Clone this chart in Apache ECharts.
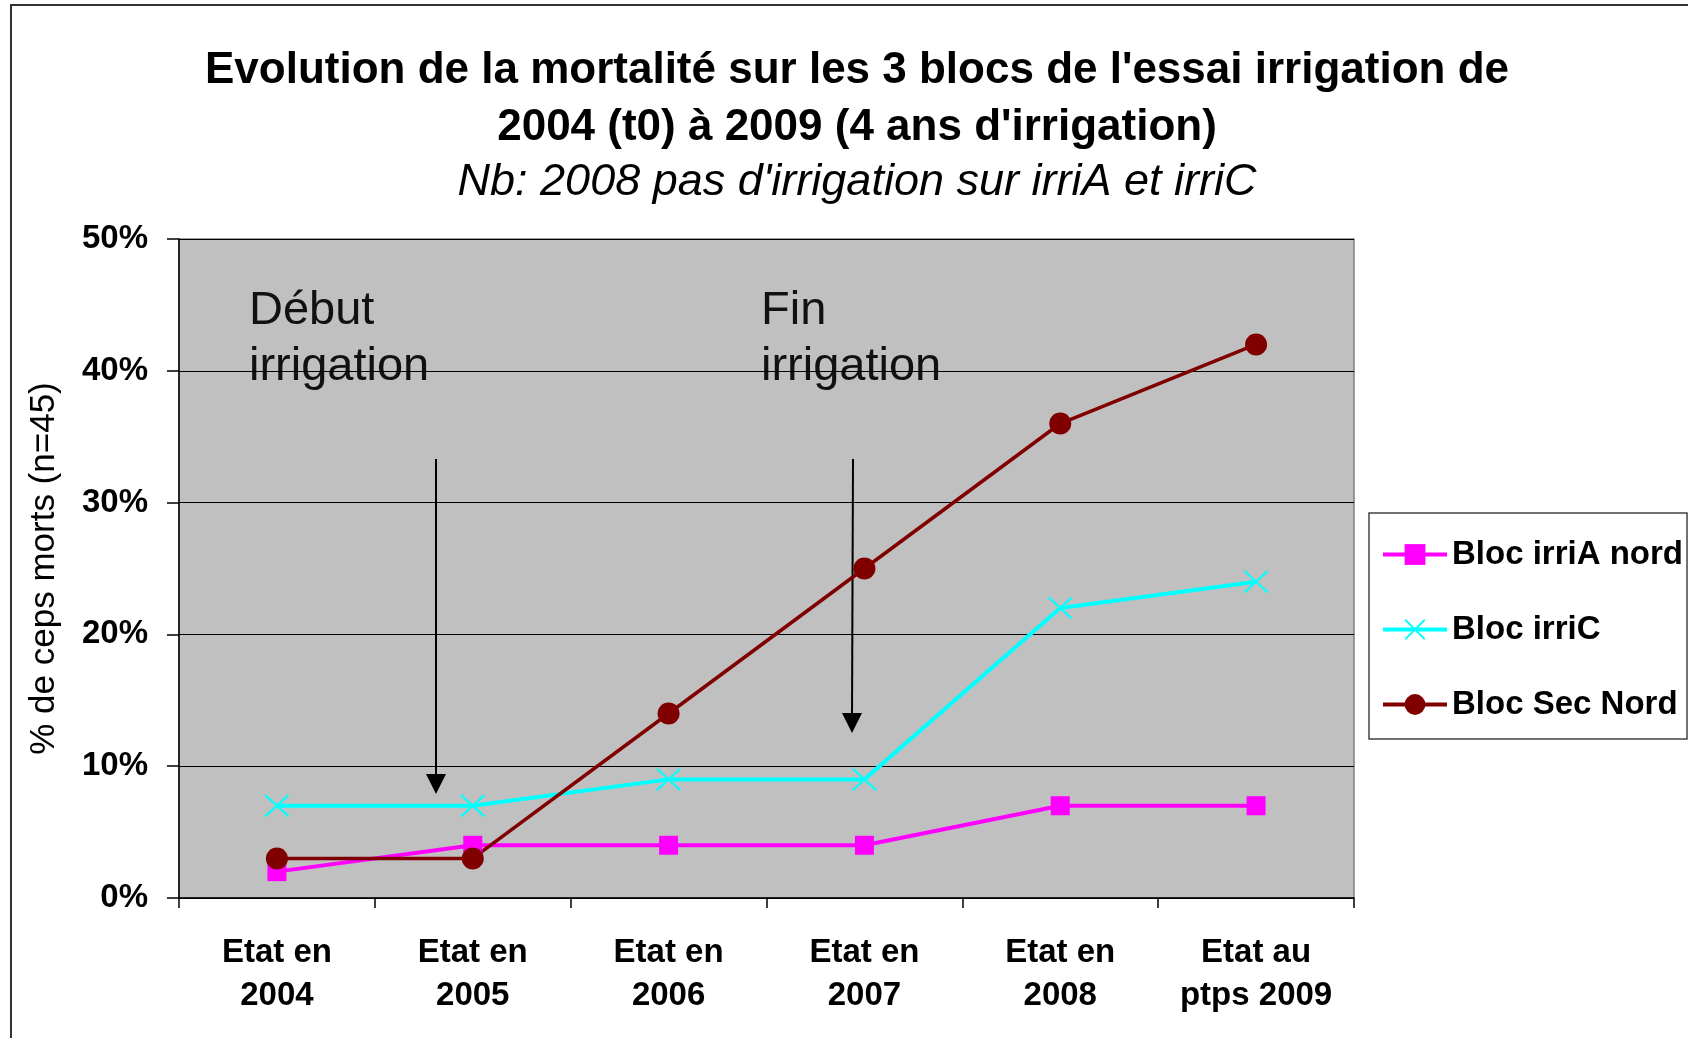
<!DOCTYPE html>
<html>
<head>
<meta charset="UTF-8">
<title>Mortalité essai irrigation</title>
<script src="https://cdn.jsdelivr.net/npm/echarts@6/dist/echarts.min.js"></script>
<style>
  html, body { margin: 0; padding: 0; background: #fff; }
  #chart { width: 1688px; height: 1038px; }
</style>
</head>
<body>
<div id="chart"></div>
<script>
// catégories (axe X)
var categories = ['Etat en\n2004', 'Etat en\n2005', 'Etat en\n2006', 'Etat en\n2007', 'Etat en\n2008', 'Etat au\nptps 2009'];
// % de ceps morts par bloc
var irriANord = [2, 4, 4, 4, 7, 7];
var irriC = [7, 7, 9, 9, 22, 24];
var secNord = [3, 3, 14, 25, 36, 42];

var font = '"Liberation Sans", Arial, sans-serif';
// croix fine pour irriC
var crossPath = 'path://M0,1.5L1.5,0L24,22.5L22.5,24Z M22.5,0L24,1.5L1.5,24L0,22.5Z';

var chart = echarts.init(document.getElementById('chart'));

var option = {
  backgroundColor: '#fff',
  animation: false,
  title: [{
    text: "Evolution de la mortalité sur les 3 blocs de l'essai irrigation de\n2004 (t0) à 2009 (4 ans d'irrigation)",
    left: 852,
    top: 37,
    textAlign: 'center',
    textStyle: { fontFamily: font, fontSize: 44, fontWeight: 'bold', color: '#000', lineHeight: 57 }
  }, {
    text: "Nb: 2008 pas d'irrigation sur irriA et irriC",
    left: 852,
    top: 154,
    textAlign: 'center',
    textStyle: { fontFamily: font, fontSize: 45, fontWeight: 'normal', fontStyle: 'italic', color: '#000', lineHeight: 46 }
  }],
  legend: {
    orient: 'vertical',
    left: 1369,
    top: 513,
    padding: [25, 4, 18, 12],
    itemGap: 42,
    itemWidth: 64,
    itemHeight: 26,
    itemTextGap: 8,
    backgroundColor: '#fff',
    borderColor: '#444',
    borderWidth: 1.5,
    borderRadius: 0,
    lineStyle: { width: 4 },
    textStyle: { fontFamily: font, fontSize: 33, fontWeight: 'bold', color: '#000' },
    data: ['Bloc irriA nord', 'Bloc irriC', 'Bloc Sec Nord']
  },
  grid: {
    left: 179,
    top: 239,
    width: 1175,
    height: 659,
    show: true,
    backgroundColor: '#c0c0c0',
    borderColor: '#808080',
    borderWidth: 1.5
  },
  xAxis: {
    type: 'category',
    data: categories,
    boundaryGap: true,
    axisLine: { lineStyle: { color: '#000', width: 1.5 } },
    axisTick: { show: true, interval: 0, length: 10, lineStyle: { color: '#000', width: 1.5 } },
    axisLabel: {
      interval: 0, margin: 33,
      fontFamily: font, fontSize: 33, fontWeight: 'bold', color: '#000', lineHeight: 43
    },
    splitLine: { show: false }
  },
  yAxis: {
    type: 'value',
    min: 0,
    max: 50,
    interval: 10,
    name: '% de ceps morts (n=45)',
    nameLocation: 'middle',
    nameGap: 117,
    nameTextStyle: { fontFamily: font, fontSize: 35, color: '#000' },
    axisLine: { show: true, lineStyle: { color: '#000', width: 1.5 } },
    axisTick: { show: true, length: 12, lineStyle: { color: '#000', width: 1.5 } },
    axisLabel: {
      margin: 31, formatter: '{value}%',
      fontFamily: font, fontSize: 33, fontWeight: 'bold', color: '#000'
    },
    splitLine: { show: true, lineStyle: { color: '#000', width: 1.2 } }
  },
  series: [{
    name: 'Bloc irriA nord',
    type: 'line',
    data: irriANord,
    symbol: 'rect',
    symbolSize: 19,
    color: '#ff00ff',
    lineStyle: { width: 4, color: '#ff00ff' },
    itemStyle: { color: '#ff00ff' }
  }, {
    name: 'Bloc irriC',
    type: 'line',
    data: irriC,
    symbol: crossPath,
    symbolSize: [25, 23],
    color: '#00ffff',
    lineStyle: { width: 4, color: '#00ffff' },
    itemStyle: { color: '#00ffff' }
  }, {
    name: 'Bloc Sec Nord',
    type: 'line',
    data: secNord,
    symbol: 'circle',
    symbolSize: 22,
    color: '#800000',
    lineStyle: { width: 3.5, color: '#800000' },
    itemStyle: { color: '#800000' }
  }],
  graphic: [
    // cadre extérieur
    { type: 'rect', shape: { x: 11, y: 5, width: 1700, height: 1100 }, style: { fill: 'none', stroke: '#333', lineWidth: 2 }, silent: true },
    // annotations
    { type: 'text', left: 249, top: 283, style: { text: 'Début\nirrigation', fontFamily: font, fontSize: 47, lineHeight: 56, fill: '#111' } },
    { type: 'text', left: 761, top: 283, style: { text: 'Fin\nirrigation', fontFamily: font, fontSize: 47, lineHeight: 56, fill: '#111' } },
    // flèches
    { type: 'line', shape: { x1: 436, y1: 459, x2: 436, y2: 778 }, style: { stroke: '#000', lineWidth: 2 } },
    { type: 'polygon', shape: { points: [[426, 774], [446, 774], [436, 794]] }, style: { fill: '#000' } },
    { type: 'line', shape: { x1: 853, y1: 459, x2: 852, y2: 717 }, style: { stroke: '#000', lineWidth: 2 } },
    { type: 'polygon', shape: { points: [[842, 713], [862, 713], [852, 733]] }, style: { fill: '#000' } }
  ]
};

chart.setOption(option);
</script>
</body>
</html>
